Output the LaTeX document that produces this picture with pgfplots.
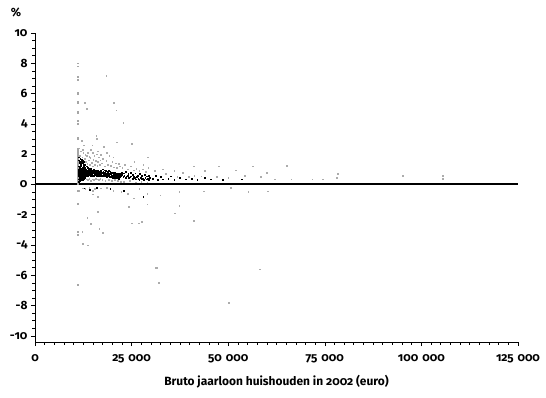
\documentclass[border=0pt]{standalone}
\usepackage{fontspec}
\setmainfont{Fira Sans}[Numbers=OldStyle]
\usepackage{pgfplots}
\pgfplotsset{compat=1.18}
\newcommand{\gs}{\hspace{0.33em}}
\begin{document}
\begin{tikzpicture}
\begin{axis}[
  scale only axis, width=483bp, height=309bp,
  xmin=0, xmax=125000, ymin=-10.4, ymax=10,
  axis lines=left, axis line style={-, line width=0.6pt},
  tick align=outside, tick style={black, line width=0.6pt},
  major tick length=4bp, minor tick length=2.5bp,
  scaled x ticks=false,
  xtick={0,25000,50000,75000,100000,125000},
  xticklabels={0,{25\gs000},{50\gs000},{75\gs000},{100\gs000},{125\gs000}},
  minor x tick num=9,
  ytick={-10,-8,-6,-4,-2,0,2,4,6,8,10},
  yticklabels={-10,-8,-6,-4,-2,0,2,4,6,8,10},
  minor y tick num=3,
  tick label style={font=\bfseries\fontsize{12}{14}\selectfont},
  xticklabel style={yshift=-5bp},
  xlabel={Bruto jaarloon huishouden in 2002 (euro)},
  xlabel style={font=\bfseries\fontsize{12}{14}\selectfont, yshift=-5bp},
  clip=false,
]
% zero line
\addplot[black, line width=2pt] coordinates {(0,0) (125000,0)};
% vertical streak at the minimum
\addplot[only marks, mark=square*, mark size=0.35pt, gray!70] coordinates {
(11100,0.05)(11100,0.15)(11100,0.25)(11100,0.35)(11100,0.45)(11100,0.55)(11100,0.65)(11100,0.75)(11100,0.85)(11100,0.95)(11100,1.05)(11100,1.15)(11100,1.25)(11100,1.35)(11100,1.45)(11100,1.55)(11100,1.65)(11100,1.75)(11100,1.85)(11100,1.95)(11100,2.05)(11100,2.15)(11100,2.25)(11100,2.35)
(11100,3.0)(11100,3.1)(11100,4.0)(11100,4.2)(11100,4.7)(11100,4.8)(11100,5.4)(11100,5.5)(11100,6.0)(11100,6.1)(11100,6.9)(11100,7.1)(11100,7.8)(11100,8.0)
(11100,-0.4)(11100,-1.25)(11100,-3.1)(11100,-3.3)(11100,-6.6)
};
% grey scatter
\addplot[only marks, mark=square*, mark size=0.35pt, gray!65] coordinates {
(13100,1.5)(13300,1.9)(13500,1.35)(13700,2.1)(13900,1.6)(14100,1.3)(14300,1.75)(14500,2.3)(14700,1.45)(14900,1.2)(15100,1.65)(15300,1.9)(15500,1.3)(15700,1.55)(15900,2.0)(16100,1.25)(16300,1.5)(16500,1.8)(16700,1.3)(16900,1.6)
(11600,1.9)(11900,2.2)(12200,1.8)(12500,2.1)(12800,1.7)(11400,2.4)(12300,2.3)(13000,1.95)(14000,1.85)(15000,2.1)(16200,2.2)(17000,1.95)
(13250,0.35)(13650,0.3)(14050,0.4)(14450,0.25)(14850,0.35)(15250,0.3)(15650,0.4)(16050,0.35)(16450,0.3)(16850,0.4)
(17200,1.4)(17600,1.7)(18000,1.2)(18400,1.55)(18800,1.3)(19200,1.9)(19600,1.25)(20000,1.5)(20400,1.15)(20800,1.4)(21200,1.1)(21600,1.35)(22000,1.2)
(17400,0.3)(18200,0.25)(19000,0.3)(19800,0.25)(20600,0.3)(21400,0.25)(22100,0.2)(18600,2.1)(20200,1.8)(17800,2.5)
(22600,1.1)(23300,1.3)(24000,1.0)(24800,1.2)(25500,0.95)(26200,1.05)(27000,0.9)(27800,1.0)(28600,0.85)(29300,1.1)
(23000,0.2)(24500,0.25)(26000,0.15)(27500,0.2)(29000,0.15)(25700,1.5)(28000,1.3)
(15800,3.2)(16000,3.0)(21200,2.8)(25100,2.7)(29200,1.8)(12900,5.4)(13400,5.0)(12000,2.9)(12600,2.6)(14800,2.6)
(18400,7.2)(20400,5.4)(21000,4.9)(22800,4.1)
(31000,0.9)(33000,1.0)(36000,0.9)(41000,1.2)(44000,0.9)(47500,1.2)(52000,0.95)(56400,1.2)(65200,1.25)(78400,0.7)(95200,0.6)(105600,0.6)(105600,0.4)
(33800,0.7)(36800,0.5)(38200,0.8)(39800,0.5)(41200,0.6)(43000,0.55)(47000,0.5)(50000,0.45)(54300,0.6)(58500,0.5)(60000,0.8)(62100,0.35)(66300,0.35)(71700,0.35)(74500,0.35)(78000,0.45)
(11400,-0.4)(12200,-3.1)(13500,-2.2)(12400,-3.9)(14500,-2.6)(15000,-0.4)(15000,-0.65)(16300,-1.8)(16600,-2.9)(17600,-3.2)(16300,-0.8)
(20200,-0.4)(22300,-0.5)(24300,-1.45)(25100,-2.55)(26900,-2.55)(27700,-2.45)(29000,-1.3)(29000,-0.6)(31600,-5.5)(32400,-0.7)
(36200,-1.9)(37300,-1.4)(37300,-0.5)(41100,-2.4)(50700,-0.2)(55200,-0.5)(58200,-5.6)(60300,-0.45)(50200,-7.8)
(12300,-0.25)(13000,-0.3)(14000,-0.2)(15500,-0.3)(17000,-0.25)(18500,-0.2)(24000,-0.6)(25500,-0.9)(27000,-0.3)
(32100,-6.5)(31300,-5.5)(13700,-4.0)(43700,-0.45)
};
% black core
\addplot[only marks, mark=square*, mark size=0.35pt, black] coordinates {
(11200,0.35)(11250,0.9)(11300,1.2)(11350,0.6)(11400,0.8)(11450,1.4)(11500,0.5)(11550,1.0)(11600,0.7)(11650,1.1)(11700,0.45)(11750,0.85)(11800,1.3)(11850,0.65)(11900,0.95)(11950,0.55)(12000,1.05)(12050,0.75)(12100,1.5)(12150,0.6)(12200,0.9)(12250,0.4)(12300,1.15)(12350,0.8)(12400,0.7)(12450,1.0)(12500,0.55)(12550,1.25)(12600,0.85)(12650,0.65)(12700,0.95)(12750,0.75)(12800,1.1)(12850,0.5)(12900,0.9)(12950,0.7)(13000,1.0)
(11220,0.7)(11280,0.55)(11330,1.0)(11380,0.85)(11430,0.3)(11480,1.1)(11530,0.75)(11580,0.6)(11630,0.9)(11680,1.25)(11730,0.7)(11780,0.5)(11830,1.0)(11880,0.8)(11930,1.2)(11980,0.65)(12030,0.9)(12080,0.45)(12130,0.8)(12180,1.1)(12230,0.7)(12280,0.95)(12330,0.6)(12380,1.0)(12430,0.85)(12480,0.75)(12530,0.95)(12580,0.6)(12630,1.05)(12680,0.8)(12730,0.55)(12780,0.9)(12830,0.7)(12880,1.0)(12930,0.85)(12980,0.6)
(11240,1.6)(11310,0.2)(11370,1.8)(11440,0.4)(11520,1.5)(11610,0.25)(11690,1.7)(11760,0.35)(11840,1.45)(11920,0.3)(12010,1.65)(12090,0.35)(12170,1.4)(12260,0.3)(12340,1.55)(12420,0.45)(12510,1.35)(12590,0.4)(12670,1.5)(12760,0.35)(12840,1.3)(12920,0.45)
(13050,0.8)(13150,0.6)(13250,1.0)(13350,0.75)(13450,0.9)(13550,0.55)(13650,1.1)(13750,0.7)(13850,0.85)(13950,0.65)(14050,0.95)(14150,0.75)(14250,0.6)(14350,0.9)(14450,1.05)(14550,0.7)(14650,0.8)(14750,0.55)(14850,0.95)(14950,0.75)(15050,0.85)(15150,0.6)(15250,1.0)(15350,0.7)(15450,0.8)(15550,0.65)(15650,0.9)(15750,0.75)(15850,0.6)(15950,0.85)(16050,0.7)(16150,0.95)(16250,0.6)(16350,0.8)(16450,0.7)(16550,0.85)(16650,0.65)(16750,0.75)(16850,0.9)(16950,0.6)
(13100,1.0)(13200,0.85)(13300,0.65)(13400,1.2)(13500,0.8)(13600,0.7)(13700,0.95)(13800,0.6)(13900,1.05)(14000,0.8)(14100,0.7)(14200,0.9)(14300,0.8)(14400,0.65)(14500,0.85)(14600,0.95)(14700,0.7)(14800,0.8)(14900,0.6)(15000,0.9)(15100,0.75)(15200,0.8)(15300,0.9)(15400,0.65)(15500,0.75)(15600,0.85)(15700,0.65)(15800,0.8)(15900,0.7)(16000,0.8)(16100,0.65)(16200,0.75)(16300,0.9)(16400,0.6)(16500,0.8)(16600,0.7)(16700,0.85)(16800,0.6)(16900,0.75)
(17050,0.7)(17200,0.8)(17350,0.6)(17500,0.75)(17650,0.85)(17800,0.65)(17950,0.7)(18100,0.8)(18250,0.6)(18400,0.75)(18550,0.7)(18700,0.65)(18850,0.8)(19000,0.6)(19150,0.7)(19300,0.75)(19450,0.55)(19600,0.7)(19750,0.65)(19900,0.75)(20050,0.6)(20200,0.7)(20350,0.55)(20500,0.65)(20650,0.7)(20800,0.55)(20950,0.65)(21100,0.6)(21250,0.7)(21400,0.5)(21550,0.6)(21700,0.65)(21850,0.5)(22000,0.6)
(17100,0.9)(17300,0.55)(17500,1.0)(17700,0.6)(17900,0.95)(18100,0.55)(18300,0.9)(18500,0.5)(18700,0.85)(18900,0.55)(19100,0.9)(19300,0.5)(19500,0.85)(19700,0.5)(19900,0.8)(20100,0.45)(20300,0.8)(20500,0.45)(20700,0.8)(20900,0.45)(21100,0.75)(21300,0.45)(21500,0.75)(21700,0.4)(21900,0.7)
(22200,0.55)(22500,0.65)(22800,0.5)(23100,0.6)(23400,0.45)(23700,0.55)(24000,0.6)(24300,0.45)(24600,0.5)(24900,0.55)(25200,0.4)(25500,0.5)(25800,0.45)(26100,0.35)(26400,0.5)(26700,0.4)(27000,0.3)(27300,0.45)(27600,0.35)(27900,0.4)(28200,0.3)(28500,0.45)(28800,0.35)(29100,0.4)(29400,0.3)(29700,0.45)
(22400,0.8)(22900,0.75)(23500,0.85)(24100,0.7)(24700,0.8)(25300,0.65)(25900,0.75)(26500,0.6)(27100,0.7)(27700,0.6)(28300,0.65)(28900,0.55)(29500,0.6)
(30500,0.4)(31200,0.6)(31800,0.3)(32500,0.5)(33000,0.35)(34500,0.4)(35200,0.55)(36000,0.3)(37500,0.45)(39000,0.35)(40500,0.4)(42000,0.3)(44000,0.45)(45500,0.35)(48500,0.3)(53500,0.35)
(12700,-0.25)(14200,-0.35)(16000,-0.2)(19500,-0.3)(23000,-0.4)(28000,-0.8)
};
\node[font=\bfseries\fontsize{12}{14}\selectfont] at (rel axis cs:0,1) [xshift=-19bp, yshift=21bp] {\%};
\end{axis}
\path (current axis.south west) ++(-35bp,-56bp);
\path (current axis.north east) ++(28bp,33bp);
\end{tikzpicture}
\end{document}
